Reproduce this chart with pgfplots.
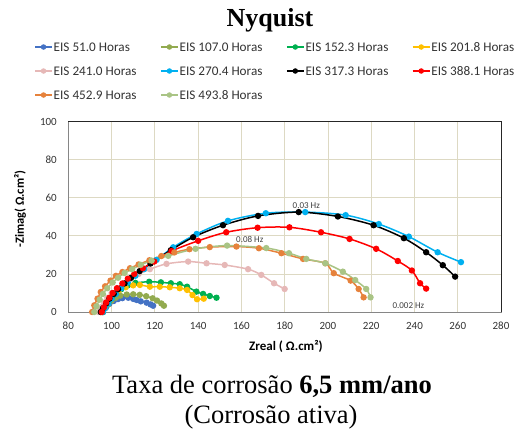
\documentclass[border=0pt]{standalone}
\usepackage{fontspec}
\setmainfont{Liberation Serif}
\newfontfamily\carlito{Carlito}
\usepackage{pgfplots}
\pgfplotsset{compat=1.18}

\definecolor{c51}{RGB}{68,114,196}
\definecolor{c107}{RGB}{146,170,79}
\definecolor{c152}{RGB}{0,176,80}
\definecolor{c201}{RGB}{255,192,0}
\definecolor{c241}{RGB}{230,184,183}
\definecolor{c270}{RGB}{0,176,240}
\definecolor{c317}{RGB}{0,0,0}
\definecolor{c388}{RGB}{255,0,0}
\definecolor{c452}{RGB}{230,130,60}
\definecolor{c493}{RGB}{169,196,133}
\definecolor{gridtan}{RGB}{221,217,195}
\definecolor{axgray}{RGB}{134,134,134}

\newcommand{\entry}[1]{\makebox[106.5pt][l]{#1}}

\begin{document}
\begin{tikzpicture}
\useasboundingbox (0pt,0pt) rectangle (521pt,432pt);

\node[font=\fontsize{26}{30}\selectfont\bfseries, anchor=base] at (270pt,405.3pt) {Nyquist};

\begin{axis}[
  name=ax,
  scale only axis,
  width=432.7pt, height=190.3pt,
  at={(68.3pt,120pt)}, anchor=south west,
  xmin=80, xmax=280, ymin=0, ymax=100,
  xtick={80,100,...,280}, ytick={0,20,...,100},
  grid=major,
  major grid style={draw=gridtan, line width=0.8pt},
  axis line style={draw=axgray, line width=0.8pt},
  major tick length=0pt,
  tick style={draw=none},
  /pgf/number format/assume math mode=true,
  ticklabel style={font=\fontsize{11}{13}\selectfont\carlito, color=black!80},
  xticklabel style={anchor=base, yshift=-17.7pt},
  yticklabel style={anchor=east, inner sep=0pt, xshift=-11.3pt},
  xlabel={Zreal ( Ω.cm²)},
  ylabel={-Zimag( Ω.cm²)},
  xlabel style={at={(axis description cs:0.503,-0.1787)}, anchor=center,
    font=\fontsize{13}{15}\selectfont\carlito\bfseries},
  ylabel style={at={(axis description cs:-0.1116,0.541)}, anchor=center, rotate=0,
    font=\fontsize{12.5}{15}\selectfont\carlito\bfseries},
  clip=false,
  every axis plot/.append style={line width=1.5pt, mark=*, mark size=2.4pt, smooth, tension=0.5},
  legend columns=4,
  legend style={
    at={(axis description cs:-0.0790,1.2664)}, anchor=west,
    draw=none, fill=none, inner sep=0pt,
    font=\fontsize{13.2}{16}\selectfont\carlito,
    text=black!80,
    row sep=15pt,
    nodes={inner sep=0pt, text height=9pt, text depth=0pt},
    /tikz/every odd column/.style={column sep=1pt},
    /tikz/every even column/.style={column sep=0pt},
  },
  legend cell align=left,
  legend image code/.code={
    \draw[mark repeat=2, mark phase=2, #1, line width=1.4pt, mark size=2pt]
      plot coordinates {(0pt,0pt) (8.5pt,0pt) (17pt,0pt)};
  },
]

% EIS 51.0 Horas
\addplot[color=c51, mark options={fill=c51}] coordinates {
  (96,0) (97.5,2.5) (99,4.3) (101,5.8) (103,6.8) (105,7.3) (107.7,7.5)
  (110,6.9) (111.6,6.3) (113.5,5.6) (116.2,4.9) (118,4) (119.2,3.3)};
\addlegendentry{\entry{EIS 51.0 Horas}}

% EIS 107.0 Horas
\addplot[color=c107, mark options={fill=c107}] coordinates {
  (96,0) (97,2) (98.5,4) (100,6) (102,7.5) (104,8.6) (107,9.2) (110,9.3)
  (113,9) (116,8.3) (119,7.2) (121,6) (123,4.5) (124.2,3.3)};
\addlegendentry{\entry{EIS 107.0 Horas}}

% EIS 152.3 Horas
\addplot[color=c152, mark options={fill=c152}] coordinates {
  (96,0) (97,2.5) (98.5,5) (100,7.5) (102,10) (104.5,12) (107.5,14) (111,15.3)
  (117.4,15.9) (122.8,15.6) (127.4,15.1) (131.5,14.6) (134.9,13.3)
  (139.2,10.7) (142.3,9.5) (145.4,8.4) (148.5,7.5)};
\addlegendentry{\entry{EIS 152.3 Horas}}

% EIS 201.8 Horas
\addplot[color=c201, mark options={fill=c201}] coordinates {
  (95,0) (96,2.5) (97.5,5) (99,7.5) (101,9.5) (103.5,11.5) (106.5,13) (110,14)
  (113.1,14.2) (117.7,13.3) (122.3,13.3) (126.9,13) (131.5,12.5) (134.9,11.6)
  (137.4,8.9) (139.5,6.7) (142.6,7)};
\addlegendentry{EIS 201.8 Horas}

% EIS 241.0 Horas
\addplot[color=c241, mark options={fill=c241}] coordinates {
  (94,0) (95,2.5) (96.5,5) (98,7.5) (100,10) (102.5,12.5) (105.5,15) (109,17.5)
  (112.5,20) (117.7,22.5) (125.4,25.3) (135.4,26.5) (143.9,25.6) (152.3,24.7)
  (163.1,22.5) (169.2,19.5) (175.1,15.1) (180,12.1)};
\addlegendentry{\entry{EIS 241.0 Horas}}

% EIS 270.4 Horas
\addplot[color=c270, mark options={fill=c270}] coordinates {
  (96,0) (97,2) (98.5,4.5) (100,7) (102,9.5) (104.5,12.5) (107.5,15.5) (111,19)
  (115,22.5) (120.8,27.4) (128.5,34) (139.3,41) (153.8,47.9) (171.3,51.9)
  (189.5,52.5) (208.2,50.9) (223.5,46.2) (237.4,39.6) (250.7,31.4) (261.5,26.2)};
\addlegendentry{\entry{EIS 270.4 Horas}}

% EIS 317.3 Horas
\addplot[color=c317, mark options={fill=c317}] coordinates {
  (95,0) (96,2) (97.5,4.5) (99,7) (101,9.5) (103,12) (106,15) (109,18)
  (113,21.5) (118,25.5) (127.4,32.5) (137.7,39.3) (151.5,45.6) (167.7,50.5)
  (186.5,52.5) (204.6,50.2) (221.1,45.6) (235.1,38.8) (245.4,31.4)
  (253.1,24.6) (258.8,18.6)};
\addlegendentry{\entry{EIS 317.3 Horas}}

% EIS 388.1 Horas
\addplot[color=c388, mark options={fill=c388}] coordinates {
  (95.5,0) (96.5,2.5) (97.5,5) (99,7.5) (100.5,10) (102.5,12.5) (105,15)
  (107.5,17.5) (110.5,20) (114.5,23) (119.7,26.5) (127.7,32) (140,37.4)
  (153,41.9) (167.5,44.3) (182.2,44.5) (196.8,41.9) (210,38.4) (222.3,33.2)
  (232.3,26.8) (238.8,21.8) (242.6,15.1) (245.4,12.3)};
\addlegendentry{EIS 388.1 Horas}

% EIS 452.9 Horas
\addplot[color=c452, mark options={fill=c452}] coordinates {
  (91,0) (92,3.5) (93.5,7) (95,10.5) (97,13.5) (99.5,16.5) (102,19) (105,21)
  (108.5,23) (112.5,25) (117.5,27.2) (123,29.4) (129,31.3) (136,33)
  (145.4,34.1) (157.7,34.4) (168.1,33.5) (178.5,30.9) (188.5,27.9)
  (198.8,25.6) (202.7,20.4) (210.5,16.5) (214.2,12.1) (216.5,7.7)};
\addlegendentry{\entry{EIS 452.9 Horas}}

% EIS 493.8 Horas
\addplot[color=c493, mark options={fill=c493}] coordinates {
  (92,0) (93,3) (94.5,6.5) (96,9.5) (98,12.5) (100.5,15.5) (103,18) (106,20.5)
  (109.5,22.5) (113.5,24.8) (118.5,27) (126.2,29.5) (138.8,33.2) (153.4,34.9)
  (171.5,33.6) (182,30.9) (190,27.9) (198.8,25.6) (206.9,21.2) (212.6,16.8)
  (217.7,12.1) (219.7,7.7)};
\addlegendentry{\entry{EIS 493.8 Horas}}

% frequency markers
\node[font=\fontsize{9}{11}\selectfont\carlito, text=black!75] at (axis cs:190,56) {0.03 Hz};
\node[font=\fontsize{9}{11}\selectfont\carlito, text=black!75] at (axis cs:163.9,37.9) {0.08 Hz};
\node[font=\fontsize{9}{11}\selectfont\carlito, text=black!75] at (axis cs:237.2,3.2) {0.002 Hz};
\end{axis}

\draw[black!85, line width=0.8pt] (ax.north west) -- (ax.north east) -- (ax.south east);

\node[font=\fontsize{26.5}{30}\selectfont, anchor=base] at (272pt,38.7pt)
  {Taxa de corrosão \textbf{6,5 mm/ano}};
\node[font=\fontsize{26.5}{30}\selectfont, anchor=base] at (271pt,8.7pt)
  {(Corrosão ativa)};
\end{tikzpicture}
\end{document}
